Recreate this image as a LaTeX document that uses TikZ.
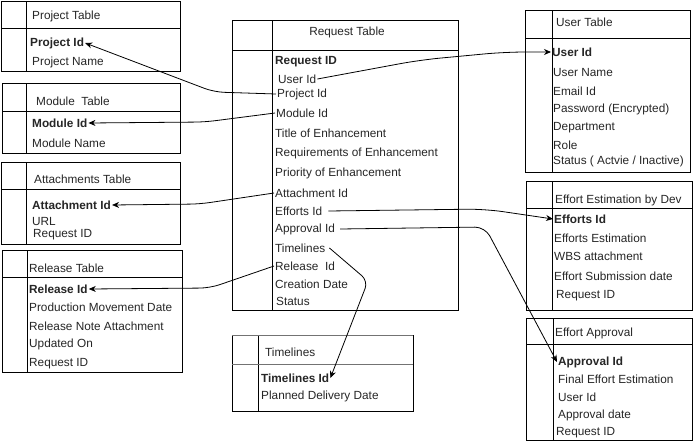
\documentclass[tikz,border=0pt]{standalone}
\usepackage{fontspec}
\setmainfont{Liberation Sans}
\usetikzlibrary{arrows.meta}
\begin{document}
\begin{tikzpicture}[x=1pt,y=-1pt,
  tbl/.style={draw=black,line width=0.8pt},
  fld/.style={anchor=west,inner sep=1pt,yshift=-1pt,font=\fontsize{11.8}{13}\selectfont,text=black!85},
  key/.style={fld,font=\fontsize{11.8}{13}\selectfont\bfseries},
  link/.style={-{Stealth[length=7pt,width=6pt]},line width=0.8pt,rounded corners=10pt}]
\useasboundingbox (0,0) rectangle (694,442);
\fill[white] (0,0) rectangle (694,442);
% Project Table
\draw[tbl] (1,1) rectangle (180,71) (1,28) -- (180,28) (26,1) -- (26,71);
\node[fld] (pth) at (31,15) {Project Table};
\node[key] (ptid) at (29,42) {Project Id};
\node[fld] (ptname) at (31,61) {Project Name};
% Module Table
\draw[tbl] (2,83) rectangle (180,153) (2,111) -- (180,111) (26,83) -- (26,153);
\node[fld] (mth) at (35,100) {Module\ \ Table};
\node[key] (mtid) at (31,122) {Module Id};
\node[fld] (mtname) at (31,142) {Module Name};
% Attachments Table
\draw[tbl] (1,162) rectangle (180,244) (1,189) -- (180,189) (26,162) -- (26,244);
\node[fld] (ath) at (33,178) {Attachments Table};
\node[key] (atid) at (31,204) {Attachment Id};
\node[fld] (aturl) at (31,220) {URL};
\node[fld] (atreq) at (32,234) {Request ID};
% Release Table
\draw[tbl] (2,250) rectangle (182,372) (2,277) -- (182,277) (27,250) -- (27,372);
\node[fld] (rth) at (28,267) {Release Table};
\node[key] (rtid) at (28,288) {Release Id};
\node[fld] (rtpmd) at (28,306) {Production Movement Date};
\node[fld] (rtrna) at (28,325) {Release Note Attachment};
\node[fld] (rtupd) at (28,343) {Updated On};
\node[fld] (rtreq) at (28,363) {Request ID};
% Request Table
\draw[tbl] (232,20) rectangle (458,310) (232,50) -- (458,50) (272,20) -- (272,310);
\node[fld,anchor=center] (rqh) at (347,31) {Request Table};
\node[key] (rqid) at (274,61) {Request ID};
\node[fld] (rquser) at (277,78) {User Id};
\node[fld] (rqproj) at (276,93) {Project Id};
\node[fld] (rqmod) at (275,112) {Module Id};
\node[fld] (rqtitle) at (274,132) {Title of Enhancement};
\node[fld] (rqreqs) at (274,152) {Requirements of Enhancement};
\node[fld] (rqprio) at (274,172) {Priority of Enhancement};
\node[fld] (rqatt) at (274,192) {Attachment Id};
\node[fld] (rqeff) at (274,210) {Efforts Id};
\node[fld] (rqappr) at (274,228) {Approval Id};
\node[fld] (rqtl) at (274,247) {Timelines};
\node[fld] (rqrel) at (274,265) {Release\ \ Id};
\node[fld] (rqcd) at (274,283) {Creation Date};
\node[fld] (rqst) at (275,300) {Status};
% Timelines
\draw[tbl] (232,335) rectangle (413,411) (258,335) -- (258,411);
\draw[tbl,draw=black!55] (232,335) -- (413,335) (232,364) -- (413,364);
\node[fld] (tlh) at (264,351) {Timelines};
\node[key] (tlid) at (260,377) {Timelines Id};
\node[fld] (tlpdd) at (260,395) {Planned Delivery Date};
% User Table
\draw[tbl] (525,10) rectangle (690,172) (525,38) -- (690,38) (552,10) -- (552,172);
\node[fld] (uth) at (555,21) {User Table};
\node[key] (utid) at (551,51) {User Id};
\node[fld] (utname) at (552,71) {User Name};
\node[fld] (utmail) at (552,90) {Email Id};
\node[fld] (utpw) at (552,108) {Password (Encrypted)};
\node[fld] (utdep) at (552,127) {Department};
\node[fld] (utrole) at (552,144) {Role};
\node[fld] (utst) at (552,160) {Status ( Actvie / Inactive)};
% Effort Estimation by Dev
\draw[tbl] (526,181) rectangle (692,310) (526,208) -- (692,208) (552,181) -- (552,310);
\node[fld] (eeh) at (554,199) {Effort Estimation by Dev};
\node[key] (eeid) at (553,218) {Efforts Id};
\node[fld] (eeest) at (553,237) {Efforts Estimation};
\node[fld] (eewbs) at (553,255) {WBS attachment};
\node[fld] (eesub) at (553,275) {Effort Submission date};
\node[fld] (eereq) at (555,295) {Request ID};
% Effort Approval
\draw[tbl] (526,318) rectangle (692,440) (526,344) -- (692,344) (553,318) -- (553,440);
\node[fld] (eah) at (554,332) {Effort Approval};
\node[key] (eaid) at (557,361) {Approval Id};
\node[fld] (eafin) at (557,378) {Final Effort Estimation};
\node[fld] (eauser) at (557,396) {User Id};
\node[fld] (eadate) at (557,414) {Approval date};
\node[fld] (eareq) at (555,432) {Request ID};
% Connectors
\draw[link] (rqproj.west) -- (214,92) -- (ptid.east);
\draw[link] (rqmod.west) -- (205,122) -- (mtid.east);
\draw[link] (rqatt.west) -- (200,204) -- (atid.east);
\draw[link] (rqrel.west) -- (210,288) -- (rtid.east);
\draw[link,rounded corners=20pt] (rquser.east) -- (420,60) -- (505,52) -- (utid.west);
\draw[link,rounded corners=18pt] ([xshift=5pt]rqeff.east) -- (485,209) -- (eeid.west);
\draw[link] ([xshift=4pt]rqappr.east) -- (485,227) -- (eaid.west);
\draw[link,rounded corners=8pt] ([xshift=3pt]rqtl.east) -- (368,281) -- (tlid.east);
\end{tikzpicture}
\end{document}
